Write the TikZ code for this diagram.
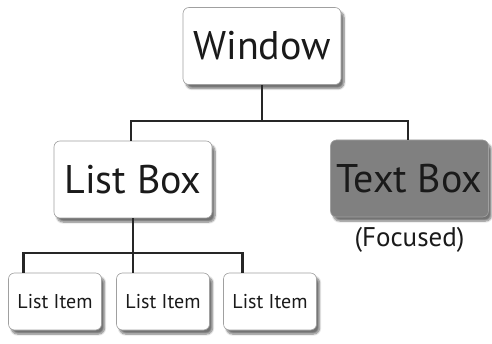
\documentclass[tikz,border=0pt]{standalone}
\usepackage{fontspec}
\setmainfont{PT Sans}
\usetikzlibrary{positioning,calc,shadows.blur}
\definecolor{ink}{HTML}{1A1A1A}
\definecolor{wire}{HTML}{262626}
\definecolor{edge}{HTML}{A0A0A0}
\definecolor{focus}{HTML}{808080}

\begin{document}
\begin{tikzpicture}[x=1pt,y=-1pt,
  box/.style={draw=edge, line width=0.6pt, fill=white, rounded corners=6pt, text=ink,
    blur shadow={shadow xshift=3pt, shadow yshift=-4pt, shadow blur steps=8, shadow opacity=55},
    minimum width=158pt, minimum height=77pt, inner sep=0pt},
  itembox/.style={box, minimum width=93pt, minimum height=57pt, font=\fontsize{20}{22}\selectfont},
  link/.style={draw=wire, line width=2.8pt}]
\useasboundingbox (0,0) rectangle (492,344);

% ---------- boxes
\node[box, font=\fontsize{40}{42}\selectfont] (win) at (262,46) {Window};
\node[box, font=\fontsize{40}{42}\selectfont] (lbox) at (133,179.5) {List Box};
\node[box, fill=focus, font=\fontsize{40}{42}\selectfont] (tbox) at (409.5,178.5) {Text Box};
\node[font=\fontsize{27}{29}\selectfont, text=ink, below=6pt of tbox] (focus) {(Focused)};
\node[itembox] (item1) at (55,301.5) {List Item};
\node[itembox] (item2) at (163,301.5) {List Item};
\node[itembox] (item3) at (270,301.5) {List Item};

% ---------- connectors
\coordinate (bus1) at (262,121);
\coordinate (bus2) at (133,253);
\begin{scope}[on background layer/.try]
\draw[link] (win.south) -- (bus1);
\draw[link] (lbox.north -| 131,0) |- (bus1) -| (tbox.north -| 408,0);
\draw[link] (lbox.south) -- (lbox.south |- item2.north);
\draw[link] ([xshift=15pt]item1.north west) |- (bus2) -| ([xshift=19pt]item3.north west);
\end{scope}

\end{tikzpicture}
\end{document}
